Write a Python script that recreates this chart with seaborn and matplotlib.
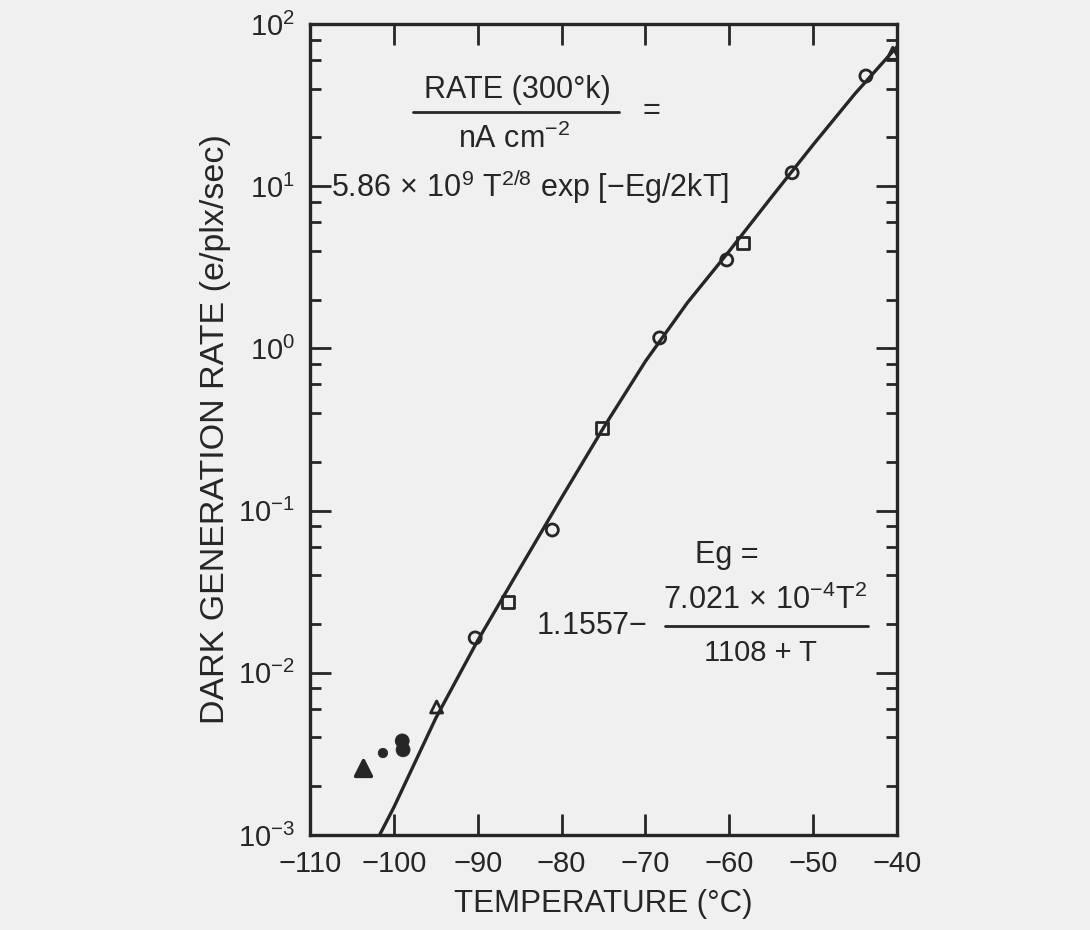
import numpy as np
import pandas as pd
import seaborn as sns
import matplotlib.pyplot as plt
from matplotlib.lines import Line2D
from matplotlib.ticker import LogLocator, NullFormatter, FixedLocator

kreis_temp = [-90.3, -81.1, -68.3, -60.3, -52.5, -43.7]
kreis_rate = [0.0164, 0.0759, 1.16, 3.51, 12.1, 47.8]

quadrat_temp = [-86.4, -75.2, -58.4]
quadrat_rate = [0.0273, 0.323, 4.47]

dreieck_temp = [-94.9, -40.5]
dreieck_rate = [0.00615, 66.0]

voll_temp = [-101.3, -99.0, -98.9]
voll_rate = [0.0032, 0.0038, 0.00335]
voll_dreieck_temp = [-103.7]
voll_dreieck_rate = [0.0026]

kurve_temp = [-101.7, -100, -95, -90, -85, -80, -75, -70, -65, -60, -55, -50, -45, -40]
kurve_rate = [1.0e-3, 1.48e-3, 5.25e-3, 0.0158, 0.0437, 0.120, 0.324, 0.832,
              1.91, 3.98, 8.51, 18.0, 37.2, 72.4]

x_ticks = [-110, -100, -90, -80, -70, -60, -50, -40]

ink = '#262626'
papier = '#f0f0f0'

sns.set_theme(style="ticks")
plt.rcParams['font.family'] = ['Liberation Sans', 'DejaVu Sans']
plt.rcParams['mathtext.fontset'] = 'custom'
plt.rcParams['mathtext.rm'] = 'Liberation Sans'
plt.rcParams['mathtext.it'] = 'Liberation Sans:italic'
plt.rcParams['text.color'] = ink
plt.rcParams['axes.labelcolor'] = ink
plt.rcParams['xtick.color'] = ink
plt.rcParams['ytick.color'] = ink

fig = plt.figure(figsize=(10.9, 9.3), dpi=100, facecolor=papier)
ax = fig.add_axes([0.2844, 0.1022, 0.5385, 0.872])
ax.set_facecolor(papier)

df_kurve = pd.DataFrame({'temp': kurve_temp, 'rate': kurve_rate})
sns.lineplot(data=df_kurve, x='temp', y='rate', ax=ax, color=ink, lw=2.4,
             sort=False, estimator=None)

punkt_stil = dict(ax=ax, s=75, facecolor='none', edgecolor=ink, linewidth=2.0, zorder=5)
sns.scatterplot(x=kreis_temp, y=kreis_rate, marker='o', **punkt_stil)
sns.scatterplot(x=quadrat_temp, y=quadrat_rate, marker='s', **punkt_stil)
sns.scatterplot(x=dreieck_temp, y=dreieck_rate, marker='^', **punkt_stil)
sns.scatterplot(x=voll_temp, y=voll_rate, marker='o', s=[45, 100, 100], color=ink,
                edgecolor=ink, ax=ax, zorder=5, legend=False)
sns.scatterplot(x=voll_dreieck_temp, y=voll_dreieck_rate, marker='^', s=130, color=ink,
                edgecolor=ink, linewidth=2.5, ax=ax, zorder=5)

ax.set_yscale('log')
ax.set_xlim(-110, -40)
ax.set_ylim(1e-3, 1e2)
ax.xaxis.set_major_locator(FixedLocator(x_ticks))
ax.yaxis.set_major_locator(LogLocator(base=10, numticks=10))
ax.yaxis.set_minor_locator(LogLocator(base=10, subs=(2, 4, 6, 8), numticks=10))
ax.yaxis.set_minor_formatter(NullFormatter())

ax.tick_params(which='both', direction='in', top=True, right=True, color=ink, width=2.0)
ax.tick_params(which='major', length=15, labelsize=21, pad=11)
ax.tick_params(which='minor', length=8)
for sp in ax.spines.values():
    sp.set_linewidth(2.4)
    sp.set_color(ink)

ax.set_xlabel('TEMPERATURE (°C)', fontsize=22.5, labelpad=8)
ax.set_ylabel('DARK GENERATION RATE (e/plx/sec)', fontsize=24.5, labelpad=5)

# Formeln
def ft(x, y, s, size=22, **kw):
    fig.text(x / 1090, 1 - y / 930, s, ha='center', va='center', fontsize=size, **kw)

def bruchstrich(x0, x1, y):
    fig.add_artist(Line2D([x0 / 1090, x1 / 1090], [1 - y / 930, 1 - y / 930],
                          color=ink, lw=2.0))

ft(517, 90, 'RATE (300°k)')
bruchstrich(413, 619, 112)
ft(514, 139, r'nA cm$^{-2}$')
ft(651, 111, '=')
ft(530, 187, r'5.86$\,\times\,$10$^{9}$ T$^{2/8}$ exp [$-$Eg/2kT]')

ft(727, 555, 'Eg =')
ft(592, 626, r'1.1557$-$')
ft(765, 600, r'7.021$\,\times\,$10$^{-4}$T$^{2}$')
bruchstrich(665, 868, 626)
ft(760, 653, '1108 + T', size=21)

plt.savefig('out.png', dpi=100, facecolor=papier)
